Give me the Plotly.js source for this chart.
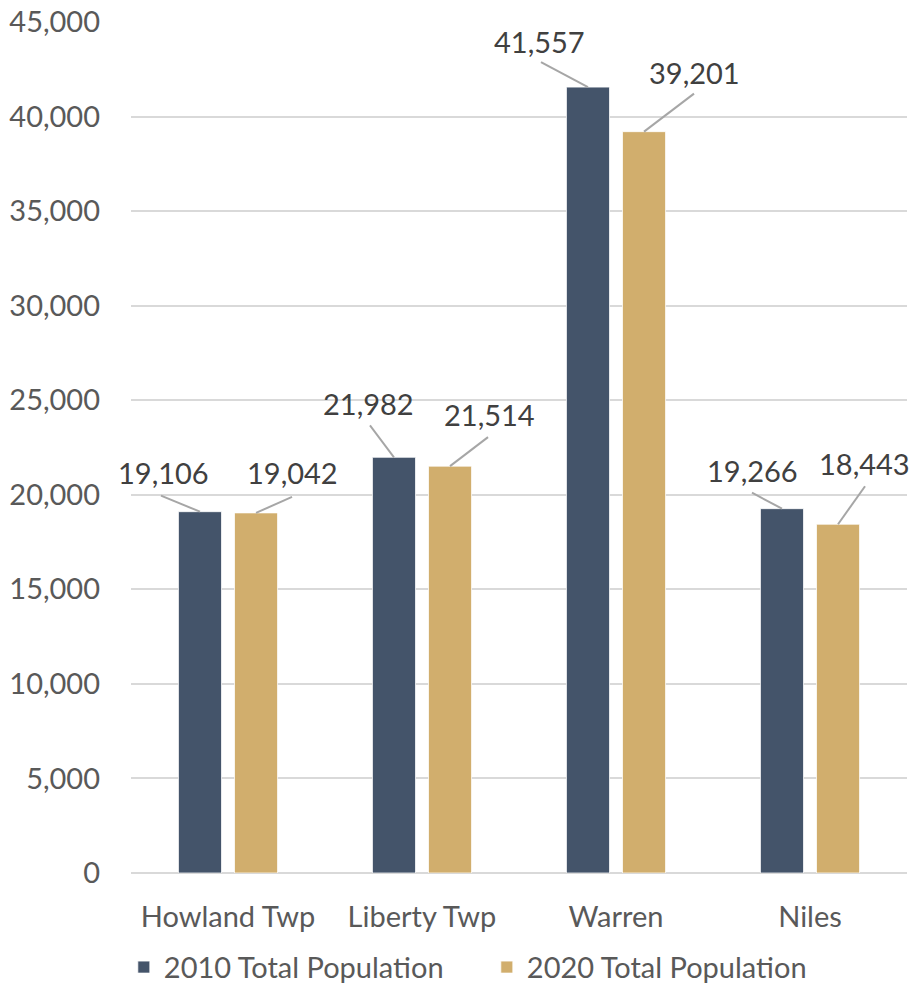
<!DOCTYPE html>
<html>
<head>
<meta charset="utf-8">
<script src="https://cdn.plot.ly/plotly-3.0.1.min.js"></script>
<style>html,body{margin:0;padding:0;background:#fff}#chart{width:924px;height:990px}</style>
</head>
<body>
<div id="chart"></div>
<script>
// ---- data ----
const categories = ["Howland Twp", "Liberty Twp", "Warren", "Niles"];
const pop2010 = [19106, 21982, 41557, 19266];
const pop2020 = [19042, 21514, 39201, 18443];
const seriesNames = ["2010 Total Population", "2020 Total Population"];
const yTickVals = [0, 5000, 10000, 15000, 20000, 25000, 30000, 35000, 40000, 45000];

// ---- label placement (pixel offsets from bar top: [dx, dyUp]) ----
const textOff2010 = [[-36, 39], [-25, 54], [-48, 46], [-29, 38]];
const textOff2020 = [[36, 40], [39, 52], [50, 59], [26, 61]];
const lineOff2010 = [[-39, 16], [-24, 32], [-47, 25], [-30, 16]];
const lineOff2020 = [[36, 16], [38, 29], [50, 38], [27, 38]];

const colors = ["#44546A", "#D1AE6D"];
const font = "Lato, 'Open Sans', sans-serif";
const textColor = "#595959";
const bargap = 0.422, bargroupgap = 0.232;
const slot = (1 - bargap) / 2;

const traces = [pop2010, pop2020].map((vals, s) => ({
  type: "bar",
  name: seriesNames[s],
  x: categories,
  y: vals,
  marker: {color: colors[s], line: {color: "#ffffff", width: 0.75}},
  hoverinfo: "skip"
}));

const annotations = [];
const shapes = [];
[[pop2010, textOff2010, lineOff2010, -1], [pop2020, textOff2020, lineOff2020, 1]].forEach(([vals, tOff, lOff, side]) => {
  vals.forEach((v, i) => {
    const xc = i + side * slot / 2;
    annotations.push({
      x: xc, y: v, xref: "x", yref: "y",
      text: v.toLocaleString("en-US"),
      showarrow: false,
      xshift: tOff[i][0], yshift: tOff[i][1],
      xanchor: "center", yanchor: "middle",
      font: {family: font, size: 29, color: "#404040"}
    });
    shapes.push({
      type: "line", xref: "x", yref: "y",
      xsizemode: "pixel", ysizemode: "pixel",
      xanchor: xc, yanchor: v,
      x0: lOff[i][0], y0: lOff[i][1], x1: 0, y1: 0,
      line: {color: "#A6A6A6", width: 2}
    });
  });
});

const layout = {
  width: 924, height: 990,
  margin: {l: 131, r: 17, t: 22, b: 117, autoexpand: false},
  paper_bgcolor: "#ffffff", plot_bgcolor: "#ffffff",
  barmode: "group", bargap: bargap, bargroupgap: bargroupgap,
  font: {family: font, size: 29, color: textColor},
  showlegend: true,
  legend: {
    orientation: "h", xref: "container", yref: "container",
    x: 0.134, xanchor: "left", y: 0.023, yanchor: "middle",
    font: {family: font, size: 29, color: textColor},
    entrywidth: 318, itemwidth: 30
  },
  xaxis: {
    type: "category", range: [-0.5, 3.5],
    showgrid: false, showline: false, ticks: "",
    tickfont: {family: font, size: 29, color: textColor},
    ticklabelstandoff: 24
  },
  yaxis: {
    range: [0, 45000], tickvals: yTickVals, tickformat: ",d",
    showgrid: true, gridcolor: "#D9D9D9", gridwidth: 2,
    zeroline: true, zerolinecolor: "#D9D9D9", zerolinewidth: 2,
    showline: false, ticks: "",
    tickfont: {family: font, size: 29, color: textColor},
    ticklabelstandoff: 30
  },
  annotations: annotations,
  shapes: shapes
};

Plotly.newPlot("chart", traces, layout, {displayModeBar: false, staticPlot: true});
</script>
</body>
</html>
